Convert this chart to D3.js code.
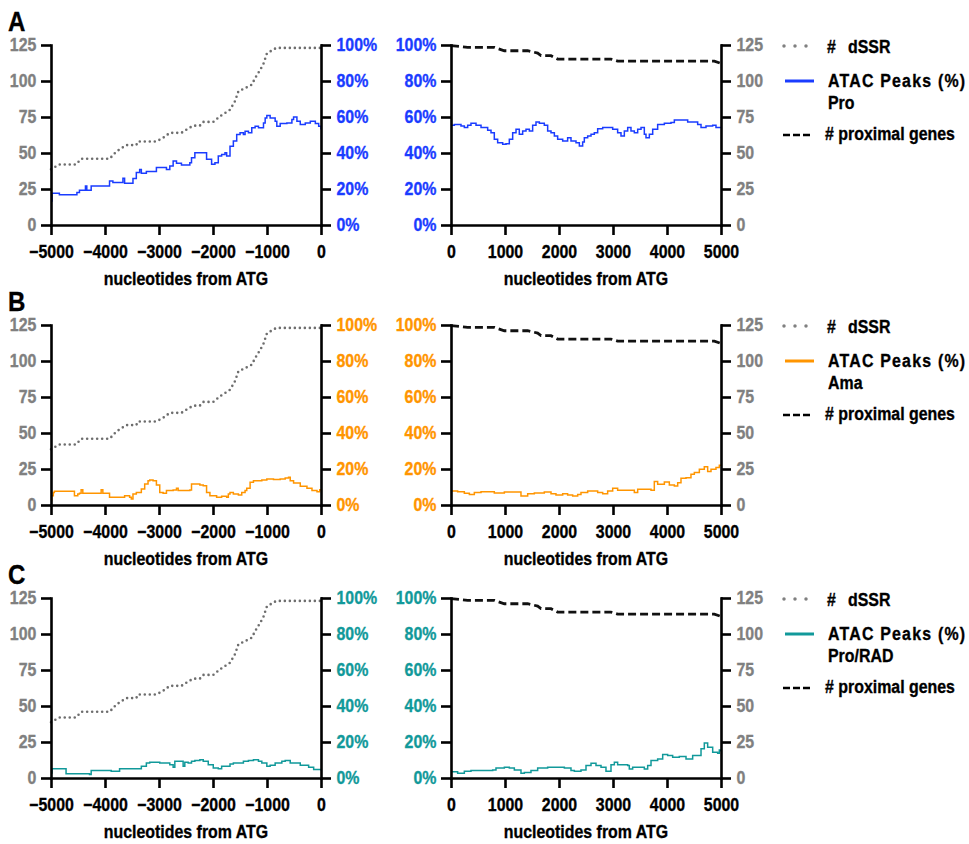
<!DOCTYPE html>
<html><head><meta charset="utf-8">
<script src="https://cdn.jsdelivr.net/npm/d3@7"></script>
<style>body{margin:0;background:#fff} text{font-family:"Liberation Sans",Arial,sans-serif;font-weight:bold}</style>
</head><body><svg id="c" width="969" height="844"></svg>
<script>
// ---------- DATA ----------
const panelNames = ["A", "B", "C"];
const sampleLabels = ["Pro", "Ama", "Pro/RAD"];
const seriesColors = ["#1a3cff", "#ff9500", "#11999a"];
const xUpTicks = [-5000, -4000, -3000, -2000, -1000, 0];
const xDownTicks = [0, 1000, 2000, 3000, 4000, 5000];
const countTicks = [0, 25, 50, 75, 100, 125];
const pctTicks = [0, 20, 40, 60, 80, 100];
const xTitle = "nucleotides from ATG";
const legendDssrHash = "#";
const legendDssr = "dSSR";
const legendAtac = "ATAC Peaks (%)";
const legendGenes = "# proximal genes";

// # dSSR (cumulative), upstream
const dssr = [[-5000,38.7],[-4845,42],[-4535,42],[-4440,46],[-3915,46],[-3790,51],[-3605,55.5],[-3420,55.5],[-3390,58],[-3050,58],[-2925,60.5],[-2800,64],[-2585,64],[-2490,66.3],[-2367,69],[-2243,69],[-2180,71.6],[-1995,71.6],[-1870,75.5],[-1685,80],[-1592,86],[-1530,92.8],[-1406,95],[-1282,97.4],[-1220,102],[-1127,107.7],[-1065,112],[-1003,119],[-880,122],[-818,123],[0,123]];
// # proximal genes, downstream
const proximalGenes = [[0,124.5],[309,123.4],[802,123.4],[988,121],[1420,121],[1605,119.4],[1667,117.6],[1852,117.6],[1975,115.2],[2963,115.2],[3086,113.8],[4877,113.8],[5000,112.2]];

// ATAC peaks (%) — Pro
const atacProUp = [[-5000,13.4],[-4981,17.7],[-4845,16.8],[-4535,16.8],[-4520,18.0],[-4473,19.3],[-4380,19.3],[-4362,21.7],[-4337,19.3],[-4256,21.7],[-3930,21.7],[-3916,24.5],[-3854,23.6],[-3690,23.6],[-3668,26.0],[-3637,23.2],[-3500,23.2],[-3482,25.8],[-3420,29.1],[-3358,30.9],[-3327,28.7],[-3234,29.7],[-3060,29.7],[-3048,31.9],[-2862,30.9],[-2800,32.8],[-2738,35.5],[-2676,34.3],[-2584,33.3],[-2429,34.6],[-2398,37.4],[-2336,40.1],[-2181,40.1],[-2119,36.5],[-2026,33.7],[-1964,34.6],[-1902,38.3],[-1840,39.2],[-1778,40.1],[-1747,38.3],[-1685,43.8],[-1623,46.6],[-1561,50.3],[-1499,51.2],[-1437,50.3],[-1406,52.1],[-1344,51.2],[-1282,54.0],[-1220,54.9],[-1158,54.0],[-1065,56.7],[-1034,59.5],[-1003,60.8],[-942,59.5],[-849,57.6],[-818,54.9],[-756,56.4],[-632,56.7],[-539,58.6],[-508,60.0],[-446,57.6],[-384,55.8],[-291,56.7],[-198,57.6],[-105,56.4],[-43,54.9],[0,53.0]];
const atacProDown = [[0,55.4],[62,55.9],[185,55.0],[247,54.1],[309,55.4],[370,56.5],[463,55.4],[556,54.1],[679,52.6],[741,51.3],[802,47.6],[864,45.7],[957,44.8],[1019,45.2],[1080,47.6],[1142,51.3],[1204,53.2],[1265,50.4],[1327,52.2],[1389,53.2],[1451,52.2],[1512,55.4],[1574,57.2],[1636,56.5],[1728,55.4],[1790,52.2],[1852,51.3],[1914,49.4],[1975,47.6],[2068,46.7],[2160,48.5],[2222,46.7],[2315,45.7],[2377,43.9],[2438,46.1],[2469,48.5],[2531,49.4],[2593,50.4],[2654,51.3],[2716,53.5],[2809,54.1],[2901,54.1],[2994,53.2],[3086,51.3],[3148,49.4],[3210,52.2],[3272,54.1],[3333,52.2],[3395,51.3],[3457,53.2],[3519,54.1],[3580,50.4],[3611,48.5],[3673,50.4],[3735,53.2],[3827,55.9],[3951,56.5],[4074,56.9],[4136,58.4],[4290,58.4],[4383,57.2],[4506,57.2],[4568,55.9],[4630,54.1],[4722,55.0],[4846,55.4],[4907,54.1],[5000,54.1]];
// ATAC peaks (%) — Ama
const atacAmaUp = [[-5000,2.4],[-4988,5.2],[-4957,7.0],[-4938,7.6],[-4580,7.6],[-4566,5.2],[-4504,6.1],[-4473,6.5],[-4442,8.5],[-4411,6.5],[-4085,6.5],[-4071,8.5],[-4040,6.5],[-3930,6.5],[-3916,4.3],[-3650,4.3],[-3637,5.2],[-3544,4.3],[-3513,3.3],[-3482,6.1],[-3420,7.0],[-3327,8.9],[-3265,11.7],[-3203,13.5],[-3172,13.9],[-3110,13.5],[-3048,11.1],[-2986,7.0],[-2924,6.5],[-2862,8.0],[-2738,8.3],[-2676,9.3],[-2645,8.0],[-2429,8.3],[-2398,11.7],[-2243,11.1],[-2181,10.7],[-2119,7.0],[-2057,5.2],[-1933,4.3],[-1840,4.8],[-1747,4.3],[-1716,6.1],[-1685,7.0],[-1623,6.1],[-1530,5.6],[-1468,7.0],[-1406,8.0],[-1375,9.3],[-1313,12.6],[-1251,13.5],[-1158,13.5],[-1096,13.9],[-1003,14.4],[-880,14.1],[-756,14.4],[-663,15.0],[-601,15.4],[-570,13.5],[-508,12.2],[-384,10.4],[-260,9.3],[-167,8.0],[-74,7.4],[-24,8.5],[0,8.0]];
const atacAmaDown = [[0,7.8],[123,7.4],[247,6.5],[340,5.9],[432,6.9],[556,7.4],[802,6.7],[988,7.2],[1265,7.2],[1296,5.0],[1389,5.0],[1420,6.3],[1543,6.7],[1728,7.2],[1852,6.3],[1944,5.6],[2068,6.3],[2160,5.6],[2253,5.0],[2346,5.9],[2407,6.9],[2531,7.8],[2716,6.9],[2809,6.3],[2901,7.8],[2994,9.3],[3086,8.2],[3272,8.2],[3395,6.9],[3457,8.7],[3580,8.7],[3704,8.2],[3765,13.0],[3827,11.5],[3951,12.8],[4043,11.1],[4136,10.6],[4198,12.4],[4259,14.8],[4352,15.2],[4444,17.1],[4506,18.0],[4599,19.9],[4691,21.2],[4753,18.6],[4815,19.9],[4907,20.8],[4969,22.1],[5000,21.7]];
// ATAC peaks (%) — Pro/RAD
const atacRadUp = [[-5000,2.8],[-4981,5.2],[-4735,5.2],[-4721,2.4],[-4300,2.4],[-4287,1.9],[-4256,4.1],[-3900,4.1],[-3885,3.7],[-3730,5.2],[-3340,5.2],[-3327,6.5],[-3234,8.4],[-3172,8.8],[-2986,8.4],[-2800,7.4],[-2738,6.0],[-2707,9.3],[-2584,9.3],[-2553,6.5],[-2522,8.8],[-2460,8.4],[-2398,9.3],[-2336,9.7],[-2243,10.2],[-2181,9.3],[-2088,7.4],[-1995,5.6],[-1902,5.2],[-1840,6.5],[-1685,7.8],[-1623,8.4],[-1437,9.3],[-1344,9.7],[-1251,10.2],[-1158,9.3],[-1096,8.4],[-1003,6.5],[-942,7.1],[-849,8.4],[-725,9.3],[-663,9.7],[-570,8.4],[-384,7.1],[-229,6.0],[-136,4.7],[0,4.1]];
const atacRadDown = [[0,3.5],[123,2.6],[247,3.7],[370,4.1],[772,4.5],[833,5.6],[988,6.0],[1080,5.6],[1173,4.5],[1296,2.6],[1358,3.0],[1481,4.1],[1605,5.6],[1790,6.0],[2099,5.6],[2222,4.1],[2284,3.7],[2407,4.5],[2500,6.9],[2593,8.2],[2685,6.9],[2778,6.0],[2870,3.7],[2963,7.4],[3025,8.8],[3086,7.4],[3272,6.9],[3302,5.0],[3364,6.0],[3488,6.0],[3580,5.0],[3642,6.9],[3704,9.7],[3827,10.6],[3920,13.0],[4012,12.5],[4105,11.5],[4228,11.9],[4352,10.6],[4475,12.5],[4568,12.5],[4630,16.2],[4691,19.4],[4753,17.1],[4846,14.3],[4938,13.8],[4969,15.6],[5000,14.7]];

const atacUp = [atacProUp, atacAmaUp, atacRadUp];
const atacDown = [atacProDown, atacAmaDown, atacRadDown];

// ---------- LAYOUT ----------
const W = 969, H = 844, SX = 0.86, FS = 18.5;
const GRAY = "#808080";
const svg = d3.select("#c");
svg.append("rect").attr("width", W).attr("height", H).attr("fill", "#fff");
const upRange = [51, 321], downRange = [451, 721];
const tops = [45, 325, 598], PH = 180;
const xUp = d3.scaleLinear().domain([-5000, 0]).range(upRange);
const xDown = d3.scaleLinear().domain([0, 5000]).range(downRange);

function label(g, x, y, str, opt = {}) {
  const fill = opt.fill || "#000";
  const t = g.append("text")
    .attr("transform", `translate(${x},${y}) scale(${SX},1)`)
    .attr("font-size", opt.size || FS)
    .attr("fill", fill).attr("stroke", fill).attr("stroke-width", 0.35)
    .attr("text-anchor", opt.anchor || "start")
    .text(str);
  if (opt.ls) t.attr("letter-spacing", opt.ls);
  return t;
}

function drawAxis(g, axis, transform, textColor, pad) {
  const a = g.append("g").attr("transform", transform)
    .call(axis.tickSize(10).tickSizeOuter(0).tickPadding(pad))
    .attr("font-family", '"Liberation Sans", Arial, sans-serif')
    .attr("font-size", FS).attr("font-weight", "bold");
  a.select(".domain").attr("stroke", "#000").attr("stroke-width", 2.6).attr("stroke-linecap", "square");
  a.selectAll(".tick line").attr("stroke", "#000").attr("stroke-width", 2.6);
  a.selectAll(".tick text").attr("fill", textColor).attr("stroke", textColor).attr("stroke-width", 0.35)
    .attr("transform", `scale(${SX},1)`);
  return a;
}

panelNames.forEach((name, i) => {
  const top = tops[i], bot = top + PH, col = seriesColors[i];
  const yC = d3.scaleLinear().domain([0, 125]).range([bot, top]);
  const yP = d3.scaleLinear().domain([0, 100]).range([bot, top]);
  const g = svg.append("g");
  const stepLine = (xs) => d3.line().curve(d3.curveStepAfter).x(d => xs(d[0])).y(d => yP(d[1]));

  // ---- upstream plot ----
  g.append("path").datum(dssr)
    .attr("d", d3.line().x(d => xUp(d[0])).y(d => yC(d[1])))
    .attr("fill", "none").attr("stroke", "#6e6e6e").attr("stroke-width", 2.6)
    .attr("stroke-dasharray", "0,5").attr("stroke-linecap", "round");
  g.append("path").datum(atacUp[i])
    .attr("d", stepLine(xUp))
    .attr("fill", "none").attr("stroke", col).attr("stroke-width", 1.5);
  drawAxis(g, d3.axisLeft(yC).tickValues(countTicks), `translate(${upRange[0]},0)`, GRAY, 7);
  drawAxis(g, d3.axisRight(yP).tickValues(pctTicks).tickFormat(d => d + "%"), `translate(${upRange[1]},0)`, col, 8);
  drawAxis(g, d3.axisBottom(xUp).tickValues(xUpTicks).tickFormat(d3.format("d")), `translate(0,${bot})`, "#000", 10);
  label(g, (upRange[0] + upRange[1]) / 2, bot + 60, xTitle, { anchor: "middle" });

  // ---- downstream plot ----
  g.append("path").datum(proximalGenes)
    .attr("d", d3.line().x(d => xDown(d[0])).y(d => yC(d[1])))
    .attr("fill", "none").attr("stroke", "#111").attr("stroke-width", 2.8)
    .attr("stroke-dasharray", "8,4");
  g.append("path").datum(atacDown[i])
    .attr("d", stepLine(xDown))
    .attr("fill", "none").attr("stroke", col).attr("stroke-width", 1.5);
  drawAxis(g, d3.axisLeft(yP).tickValues(pctTicks).tickFormat(d => d + "%"), `translate(${downRange[0]},0)`, col, 7);
  drawAxis(g, d3.axisRight(yC).tickValues(countTicks), `translate(${downRange[1]},0)`, GRAY, 8);
  drawAxis(g, d3.axisBottom(xDown).tickValues(xDownTicks).tickFormat(d3.format("d")), `translate(0,${bot})`, "#000", 10);
  label(g, (downRange[0] + downRange[1]) / 2, bot + 60, xTitle, { anchor: "middle" });

  // ---- panel letter ----
  label(g, 8, top - 14, name, { size: 28 });

  // ---- legend ----
  g.append("line").attr("x1", 784).attr("x2", 808).attr("y1", top + 1).attr("y2", top + 1)
    .attr("stroke", "#808080").attr("stroke-width", 3.5).attr("stroke-linecap", "round").attr("stroke-dasharray", "0,11");
  label(g, 827, top + 8, legendDssrHash);
  label(g, 848, top + 8, legendDssr);
  g.append("line").attr("x1", 785).attr("x2", 814).attr("y1", top + 36).attr("y2", top + 36)
    .attr("stroke", col).attr("stroke-width", 3);
  label(g, 828, top + 42, legendAtac, { ls: 1.4 });
  label(g, 828, top + 64, sampleLabels[i]);
  g.append("line").attr("x1", 783).attr("x2", 810).attr("y1", top + 90).attr("y2", top + 90)
    .attr("stroke", "#000").attr("stroke-width", 2.6).attr("stroke-dasharray", "7,3");
  label(g, 825, top + 95, legendGenes);
});
</script></body></html>
